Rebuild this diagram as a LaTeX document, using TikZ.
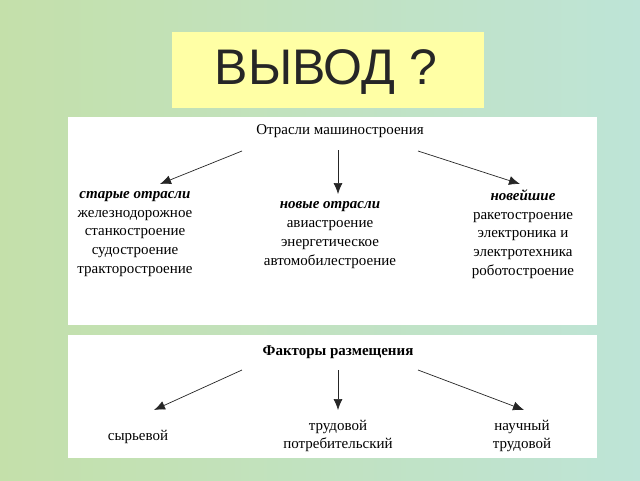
\documentclass[tikz,border=0pt]{standalone}
\usepackage{fontspec}
\setmainfont{Liberation Serif}
\newfontfamily\titlefont{Liberation Sans}
\usetikzlibrary{arrows.meta}
\begin{document}
\begin{tikzpicture}[x=1pt,y=-1pt,
  txt/.style={font=\fontsize{15}{18.8}\selectfont, align=center, inner sep=0pt},
  arr/.style={-{Latex[length=11pt,width=9pt]}, line width=0.7pt, color=black!85}]
\definecolor{bgA}{RGB}{196,224,170}
\definecolor{bgB}{RGB}{190,228,215}
\definecolor{ttl}{RGB}{255,255,165}
\shade[left color=bgA, right color=bgB] (0,0) rectangle (640,480);
\useasboundingbox (0,0) rectangle (640,480);
\fill[ttl] (172,32) rectangle (484,108);
\node[font=\titlefont\fontsize{50}{56}\selectfont, text=black!85] (title) at (326,72) {ВЫВОД ?};
\fill[white] (68,117) rectangle (597,325);
\fill[white] (68,335) rectangle (597,458);
% top
\node[txt] (h1) at (340,131) {Отрасли машиностроения};
\coordinate (a1) at (242,151); \coordinate (b1) at (160,184);
\coordinate (a2) at (338,150); \coordinate (b2) at (338,194);
\coordinate (a3) at (418,151); \coordinate (b3) at (520,184);
\draw[arr] (a1) -- (b1);
\draw[arr] (a2) -- (b2);
\draw[arr] (a3) -- (b3);
\node[txt] (l) at (135,234) {\textbf{\textit{старые отрасли}}\\железнодорожное\\станкостроение\\судостроение\\тракторостроение};
\node[txt] (m) at (330,235) {\textbf{\textit{новые отрасли}}\\авиастроение\\энергетическое\\автомобилестроение};
\node[txt] (r) at (523,234) {\textbf{\textit{новейшие}}\\ракетостроение\\электроника и\\электротехника\\роботостроение};
% bottom
\node[txt, font=\fontsize{15}{18}\selectfont\bfseries] (h2) at (338,352) {Факторы размещения};
\coordinate (c1) at (242,370); \coordinate (d1) at (154,410);
\coordinate (c2) at (338,370); \coordinate (d2) at (338,410);
\coordinate (c3) at (418,370); \coordinate (d3) at (524,410);
\draw[arr] (c1) -- (d1);
\draw[arr] (c2) -- (d2);
\draw[arr] (c3) -- (d3);
\node[txt] (s1) at (138,437) {сырьевой};
\node[txt] (s2) at (338,436) {трудовой\\потребительский};
\node[txt] (s3) at (522,436) {научный\\трудовой};
\end{tikzpicture}
\end{document}
